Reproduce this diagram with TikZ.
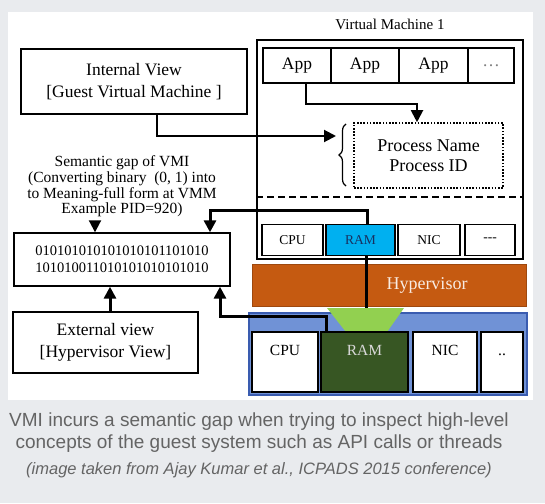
\documentclass[tikz,border=0pt]{standalone}
\usepackage{fontspec}
\setmainfont{Liberation Serif}
\newfontfamily\capfont{Liberation Sans}
\usepackage{xcolor}
\usetikzlibrary{arrows.meta,positioning,decorations.pathreplacing}
\definecolor{ramblue}{RGB}{0,176,240}
\definecolor{ramtext}{RGB}{24,48,96}
\definecolor{hvorange}{RGB}{197,90,17}
\definecolor{hostblue}{RGB}{112,146,214}
\definecolor{hostedge}{RGB}{58,92,176}
\definecolor{trapgreen}{RGB}{146,208,80}
\definecolor{ramgreen}{RGB}{55,86,35}
\definecolor{slidebg}{RGB}{233,235,238}
\definecolor{captext}{RGB}{100,100,100}

\begin{document}
\begin{tikzpicture}[x=1pt, y=-1pt,
  box/.style={rectangle, draw, line width=1.8pt, align=center,
    font=\fontsize{17.5}{22}\selectfont},
  appbox/.style={rectangle, draw, line width=1.4pt, minimum height=35pt,
    font=\fontsize{17.5}{18}\selectfont},
  vmhw/.style={rectangle, draw, line width=1.6pt, minimum height=31pt,
    font=\fontsize{13.5}{14}\selectfont},
  hosthw/.style={rectangle, draw, line width=1.2pt, fill=white,
    minimum height=60pt, text height=11pt, text depth=25pt,
    font=\fontsize{15.5}{16}\selectfont},
  link/.style={line width=2pt},
  heavy/.style={line width=3pt},
  >={Triangle[length=12pt,width=12pt]}
]
  \useasboundingbox (0,0) rectangle (545,503);
  \fill[slidebg] (0,0) rectangle (545,503);
  \fill[white] (8,12) rectangle (533,400);

  % Guest side: Virtual Machine 1
  \node[font=\fontsize{15}{16}\selectfont] (vmlabel) at (390,24) {Virtual Machine 1};
  \node[rectangle, draw, line width=1.6pt, minimum width=266pt,
    minimum height=219pt] (vm) at (390,149.5) {};
  \node[appbox, minimum width=68pt] (app1) at (297,65.5) {App};
  \node[appbox, minimum width=68pt] (app2) at (365,65.5) {App};
  \node[appbox, minimum width=69pt] (app3) at (433.5,65.5) {App};
  \node[appbox, minimum width=46pt, text=gray] (appx) at (491,65.5) {\dots};
  \node[rectangle, draw, line width=1.6pt, dash pattern=on 1.6pt off 1.6pt,
    minimum width=149pt, minimum height=65pt, align=center,
    font=\fontsize{18}{20}\selectfont] (proc) at (428.5,155.5)
    {Process Name\\Process ID};
  \draw[line width=1.2pt, decorate, decoration={brace, amplitude=7pt}]
    (346,186) -- (346,124);
  \coordinate (brc) at (336,136);
  \draw[line width=1.6pt, dash pattern=on 7pt off 4pt]
    (vm.west |- 0,197) -- (vm.east |- 0,197);
  \node[vmhw, minimum width=61pt] (vcpu) at (292.5,240) {CPU};
  \node[vmhw, minimum width=69pt, fill=ramblue, text=ramtext] (vram)
    at (360.5,240) {RAM};
  \node[vmhw, minimum width=62pt] (vnic) at (429,240) {NIC};
  \node[vmhw, minimum width=50pt] (vdots) at (490,240) {-{}-{}-};

  % Hypervisor and host hardware
  \node[rectangle, fill=hvorange, draw=hvorange!80!black, line width=1pt,
    minimum width=274pt, minimum height=42pt,
    label={[xshift=38pt, text=white!88!hvorange,
      font=\fontsize{18}{18}\selectfont]center:Hypervisor}] (hv) at (389,285) {};
  \node[rectangle, fill=hostblue, draw=hostedge, line width=1.5pt,
    minimum width=278pt, minimum height=82pt] (host) at (388,354) {};
  \fill[trapgreen] (327,308) -- (404,308) -- (387,332) -- (346,332) -- cycle;
  \coordinate (trtop) at (366,308);
  \node[hosthw, minimum width=66pt] (hcpu) at (285,362) {CPU};
  \node[hosthw, minimum width=87pt, fill=ramgreen, text=white!85!black]
    (hram) at (364.5,362) {RAM};
  \node[hosthw, minimum width=64pt] (hnic) at (445,362) {NIC};
  \node[hosthw, minimum width=42pt] (hdots) at (502,362) {..};

  % Views and the semantic gap
  \node[box, minimum width=226pt, minimum height=65pt] (iv) at (134,81.5)
    {Internal View\\{[}Guest Virtual Machine ]};
  \node[align=center, font=\fontsize{15.5}{15.7}\selectfont] (gap) at (122,186.5)
    {Semantic gap of VMI\\(Converting binary\ \ (0, 1) into\\
     to Meaning-full form at VMM\\Example PID=920)};
  \node[rectangle, draw, line width=1.4pt, minimum width=216pt,
    minimum height=53pt, align=center, font=\fontsize{14.5}{17}\selectfont]
    (bin) at (122,259.5)
    {010101010101010101101010\\101010011010101010101010};
  \node[box, minimum width=185pt, minimum height=61pt] (ev) at (105.5,342.5)
    {External view\\{[}Hypervisor View]};

  % connectors
  \draw[->, link] ([xshift=23pt]iv.south) |- (brc);
  \draw[->, link] ([xshift=9pt]app1.south) -- ++(0,20)
    -| ([xshift=-11.5pt]proc.north);
  \draw[->, link] ([xshift=-27pt]gap.south) -- ([xshift=-27pt]bin.north);
  \draw[->, heavy] ([xshift=6.5pt]vram.north) -- ++(0,-13)
    -| ([xshift=88pt]bin.north);
  \draw[->, heavy] ([xshift=4.5pt]ev.north) -- ([xshift=-12pt]bin.south);
  \draw[->, heavy] ([xshift=-38.5pt]hram.north) -- ++(0,-15)
    -| ([xshift=98pt]bin.south);
  \draw[heavy] ([xshift=5.5pt]vram.south) -- (trtop);

  % caption
  \node[font=\capfont\fontsize{19}{22}\selectfont, text=captext, align=center]
    (cap) at (259,433) {VMI incurs a semantic gap when trying to inspect high-level\\
    concepts of the guest system such as API calls or threads};
  \node[font=\capfont\itshape\fontsize{16.5}{17}\selectfont, text=captext]
    (src) at (259,470) {(image taken from Ajay Kumar et al., ICPADS 2015 conference)};
\end{tikzpicture}
\end{document}
